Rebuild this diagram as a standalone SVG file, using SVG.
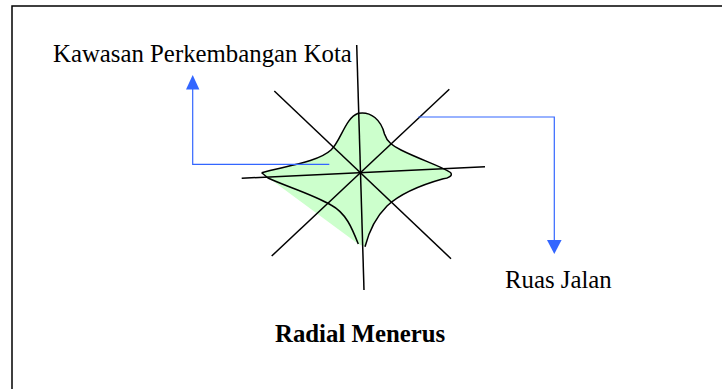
<svg xmlns="http://www.w3.org/2000/svg" width="722" height="389" viewBox="0 0 722 389">
  <style>
    .frame { fill: none; stroke: #000; stroke-width: 1.5; }
    .road { fill: none; stroke: #000; stroke-width: 1.5; stroke-linecap: butt; }
    .outline { fill: none; stroke: #000; stroke-width: 1.5; stroke-linejoin: round; }
    .area { fill: #ccffcc; stroke: none; }
    .link { fill: none; stroke: #3366ff; stroke-width: 1.2; }
    .head { fill: #3366ff; stroke: none; }
    .lbl { font-family: "Liberation Serif", "Times New Roman", serif; font-size: 24.8px; fill: #000; }
    .title { font-weight: bold; }
  </style>
  <rect width="722" height="389" fill="#fff"/>
  <path class="frame" d="M12,400 V6 H740"/>

  <g id="kawasan">
    <path class="area" d="M261.7,172.7 C286,166 318,162 331,150 C341,141 345,118 358.3,113.3 C371,111 381,120 384.5,134 C387,142 393,146 401,150 C421,160 441,166 450.5,172.5 C453.5,175.5 448,178.5 443.3,178.8 C421,185 401,193 387,206 C374,219 368,235 365,246.7 L358.3,244 Z"/>
    <path class="outline" d="M261.7,172.7 C286,166 318,162 331,150 C341,141 345,118 358.3,113.3 C371,111 381,120 384.5,134 C387,142 393,146 401,150 C421,160 441,166 450.5,172.5 C453.5,175.5 448,178.5 443.3,178.8 C421,185 401,193 387,206 C374,219 368,235 365,246.7"/>
    <path class="outline" d="M358.3,244 C352,228 346,213 331,205 C312,194 285,186 268,178 L261.7,172.7"/>
  </g>

  <g id="ruas-jalan">
    <line class="road" x1="356.7" y1="45" x2="364" y2="290"/>
    <line class="road" x1="241.7" y1="178.3" x2="485" y2="166.7"/>
    <line class="road" x1="274.3" y1="91" x2="451" y2="258.7"/>
    <line class="road" x1="449.3" y1="89.3" x2="271.7" y2="256"/>
  </g>

  <g id="connectors">
    <path class="link" d="M329.3,164.3 H192.7 V88"/>
    <polygon class="head" points="192.7,75 186,89.5 199.4,89.5"/>
    <path class="link" d="M418.3,117 H554.3 V241"/>
    <polygon class="head" points="547,240 561.6,240 554.3,254"/>
  </g>

  <g id="label-kawasan">
    <text class="lbl" x="53" y="61.5">Kawasan Perkembangan Kota</text>
  </g>
  <g id="label-ruas">
    <text class="lbl" x="505" y="288">Ruas Jalan</text>
  </g>
  <g id="label-title">
    <text class="lbl title" x="275" y="342">Radial Menerus</text>
  </g>
</svg>
